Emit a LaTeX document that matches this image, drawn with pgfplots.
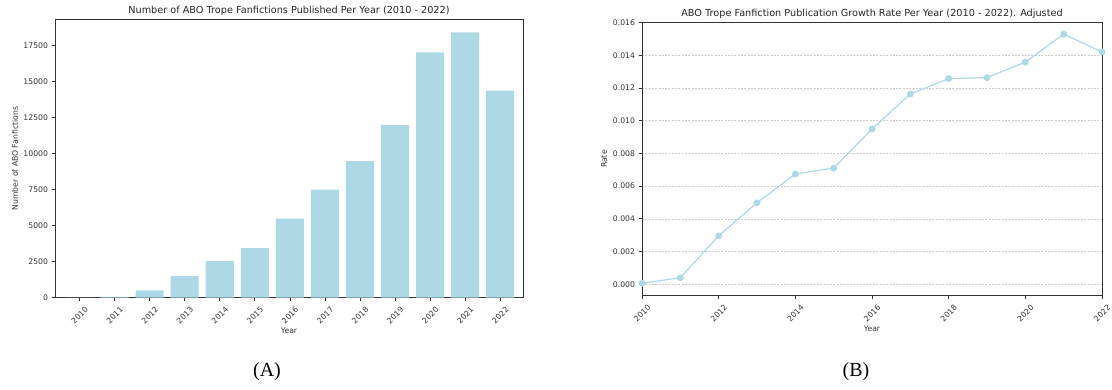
\documentclass[border=0pt]{standalone}
\usepackage{fontspec}
\setmainfont{DejaVu Sans}
\newfontfamily\capfont{Liberation Serif}
\usepackage{pgfplots}
\pgfplotsset{compat=1.18}
\definecolor{lblue}{HTML}{ADD8E6}
\definecolor{axc}{HTML}{333333}
\pgfplotstableread{
year count
2010 10
2011 60
2012 508
2013 1500
2014 2540
2015 3440
2016 5494
2017 7500
2018 9491
2019 11991
2020 17037
2021 18426
2022 14375
}\counts
\pgfplotstableread{
year rate
2010 0.00006
2011 0.00040
2012 0.00296
2013 0.00498
2014 0.00674
2015 0.00710
2016 0.00949
2017 0.01163
2018 0.01257
2019 0.01263
2020 0.01358
2021 0.01529
2022 0.01420
}\rates
\begin{document}
\begin{tikzpicture}
\useasboundingbox (0,0) rectangle (1112pt,389pt);
\pgfplotsset{
  common/.style={
    scale only axis,
    anchor=south west,
    axis line style={axc, line width=0.7pt},
    tick style={axc, line width=0.7pt},
    tick align=outside,
    major tick length=3.5pt,
    xtick pos=bottom, ytick pos=left,
    tick label style={font=\fontsize{7.7}{9}\selectfont, color=axc},
    label style={font=\fontsize{7.7}{9}\selectfont, color=axc},
    title style={font=\fontsize{9.7}{11}\selectfont, color=black!85, at={(0.5,1)}, anchor=south, inner sep=0pt, yshift=-2.5pt},
    /pgf/number format/assume math mode=true,
    xticklabel style={xshift=5pt, rotate=45, anchor=north east, /pgf/number format/1000 sep={}},
    scaled y ticks=false,
    scaled x ticks=false,
  }
}
\begin{axis}[common,
  at={(55pt,91.3pt)}, width=468pt, height=278.4pt,
  xmin=2009.3, xmax=2022.65, ymin=0, ymax=19333,
  xtick={2010,2011,...,2022},
  ytick={0,2500,...,17500},
  yticklabel style={/pgf/number format/1000 sep={}},
  title={Number of ABO Trope Fanfictions Published Per Year (2010 - 2022)},
  xlabel={Year}, ylabel={Number of ABO Fanfictions},
  xlabel style={at={(axis description cs:0.5,-0.1185)}, anchor=center},
  ylabel style={at={(axis description cs:-0.0855,0.5)}, anchor=center},
]
\addplot[ybar, bar width=0.8, fill=lblue, draw=none] table[x=year, y=count] {\counts};
\end{axis}
\begin{axis}[common,
  at={(642pt,93.3pt)}, width=460pt, height=273.2pt,
  xmin=2010, xmax=2022, ymin=-0.0007, ymax=0.016,
  xtick={2010,2012,...,2022},
  ytick={0,0.002,...,0.016},
  yticklabel style={/pgf/number format/.cd, fixed, fixed zerofill, precision=3},
  ymajorgrids,
  major grid style={gray!40, dash pattern=on 2pt off 1.3pt, line width=0.45pt},
  clip mode=individual,
  title={ABO Trope Fanfiction Publication Growth Rate Per Year (2010 - 2022). Adjusted},
  xlabel={Year}, ylabel={Rate},
  xlabel style={at={(axis description cs:0.5,-0.122)}, anchor=center},
  ylabel style={at={(axis description cs:-0.0826,0.5)}, anchor=center},
]
\addplot[color=lblue, line width=1.2pt, mark=*, mark size=2.8pt, mark options={fill=lblue, draw=lblue}] table[x=year, y=rate] {\rates};
\end{axis}
\node[font=\capfont\fontsize{20}{24}\selectfont] at (267pt,17pt) {(A)};
\node[font=\capfont\fontsize{20}{24}\selectfont] at (856pt,17pt) {(B)};
\end{tikzpicture}
\end{document}
